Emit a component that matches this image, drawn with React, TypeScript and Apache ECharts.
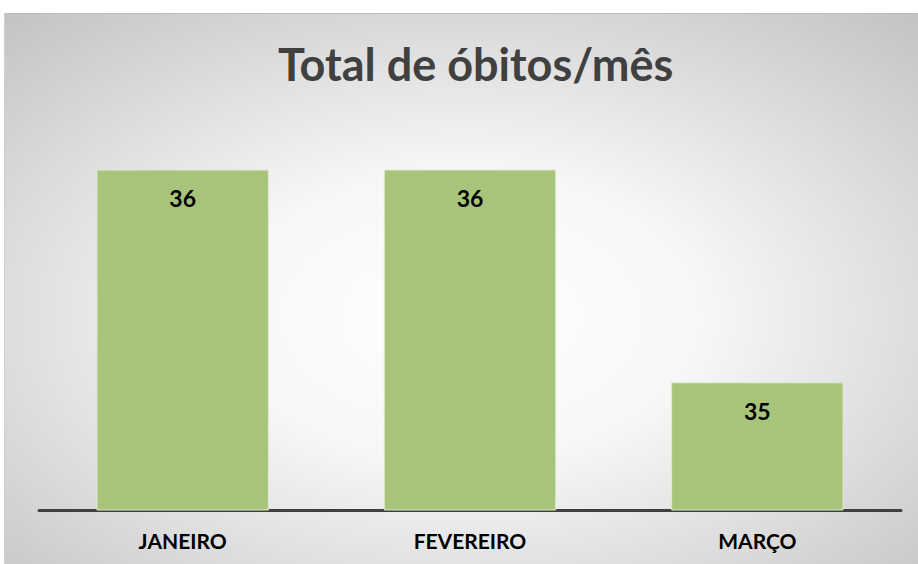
import React, { useEffect, useRef } from "react";
import * as echarts from "echarts";

const categories = ["JANEIRO", "FEVEREIRO", "MARÇO"];
const values = [36, 36, 35];
const titleText = "Total de óbitos/mês";

export default function App() {
  const ref = useRef<HTMLDivElement>(null);
  useEffect(() => {
    const chart = echarts.init(ref.current!, null, { renderer: "svg" });
    chart.setOption({
      animation: false,
      backgroundColor: new echarts.graphic.RadialGradient(0.5, 0.55, 0.75, [
        { offset: 0, color: "#ffffff" },
        { offset: 0.35, color: "#f7f7f7" },
        { offset: 1, color: "#c2c2c2" },
      ]),
      title: {
        text: titleText,
        left: 268,
        top: 22,
        textStyle: {
          fontFamily: "Lato, 'Open Sans', sans-serif",
          fontWeight: "bold",
          fontSize: 45,
          color: "#404040",
        },
      },
      grid: { left: 34, right: 17, top: 113, bottom: 54 },
      xAxis: {
        type: "category",
        data: categories,
        axisLine: { lineStyle: { color: "#404040", width: 3 } },
        axisTick: { show: false },
        axisLabel: {
          margin: 20,
          fontFamily: "Lato, 'Open Sans', sans-serif",
          fontWeight: "bold",
          fontSize: 21,
          color: "#000000",
        },
      },
      yAxis: {
        type: "value",
        min: 34.4,
        max: 36.2,
        show: false,
        splitLine: { show: false },
      },
      series: [
        {
          type: "bar",
          data: values,
          barWidth: "60%",
          itemStyle: {
            color: "#a8c47a",
            borderColor: "#dfe9cf",
            borderWidth: 1,
          },
          label: {
            show: true,
            position: "insideTop",
            distance: 17,
            fontFamily: "Lato, 'Open Sans', sans-serif",
            fontWeight: "bold",
            fontSize: 23,
            color: "#000000",
          },
        },
      ],
    });
    return () => chart.dispose();
  }, []);
  return (
    <div
      ref={ref}
      style={{
        position: "absolute",
        left: 4,
        top: 13,
        width: 914,
        height: 551,
        borderTop: "1px solid #bfbfbf",
        borderLeft: "1px solid #d0d0d0",
        boxSizing: "border-box",
      }}
    />
  );
}
